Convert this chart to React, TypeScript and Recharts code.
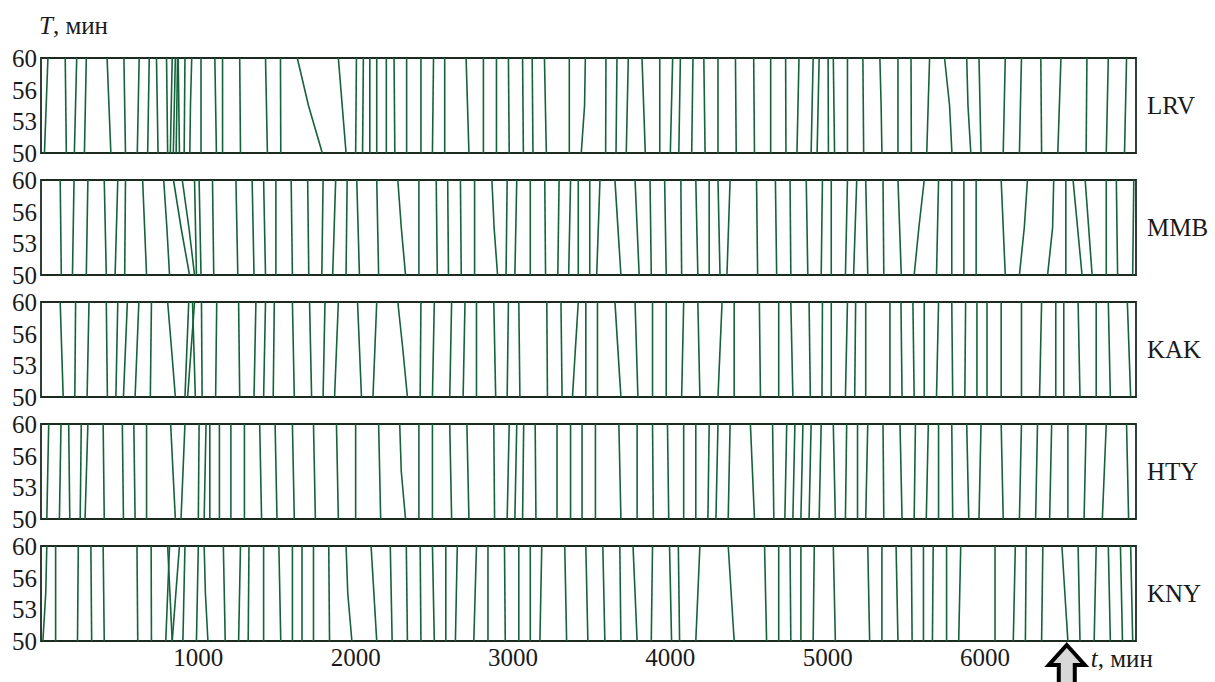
import React from 'react';
import { ComposedChart, Line, XAxis, YAxis, ReferenceArea, ReferenceDot } from 'recharts';

// Each contour: [t at T=50, t at T=60] or [t at T=50, t at T=55, t at T=60]
const lrvLines: number[][] = [
  [22,44],[161,154],[212,227],[276,288],[444,420],[537,527],[612,624],[678,688],[744,734],[805,798],[822,834],[841,854],[859,868],[880,872],[910,915],[946,950,958],[1017,1017],[1115,1105],[1154,1154],[1268,1263],[1439,1427],[1524,1522],[1788,1700,1629],[1939,1890],[2000,2005],[2044,2049],[2090,2090],[2134,2134],[2195,2195],[2249,2244],[2324,2324],[2415,2415],[2488,2495],[2566,2566],[2720,2702],[2812,2812],[2895,2895],[2976,2971],[3066,3061],[3127,3122],[3212,3200],[3358,3358],[3434,3455,3460],
  [3589,3591],[3655,3661],[3720,3733],[3841,3820],[3933,3933],[4000,4015],[4054,4064],[4136,4144],[4221,4213],[4303,4303],[4419,4414],[4535,4530],[4638,4638],[4735,4733],[4805,4818],[4895,4908],[4933,4946],[5005,5003],[5044,5036],[5126,5126],[5229,5224],[5345,5340,5332],[5447,5447],[5532,5530],[5630,5648],[5790,5775,5743],[5910,5892,5884],[5975,5962],[6116,6129],[6219,6232],[6360,6355],[6463,6483],[6643,6648],[6771,6784],[6887,6900],
];
const mmbLines: number[][] = [
  [129,122],[200,210],[288,298],[415,402],[471,488],[532,537],[671,646],[817,800,780],[944,890,842],[976,940,898],[988,976],[1017,1005],[1098,1090],[1251,1239],[1354,1342],[1427,1415],[1493,1493],[1598,1590],[1702,1695],[1785,1793],[1854,1873],[1939,1946],[2024,2007],[2146,2134],[2317,2290,2268],[2402,2402],[2519,2512],[2590,2585],[2671,2666],[2756,2756],[2902,2880,2866],[2956,2963],[3012,3024],[3110,3110],[3207,3202],[3285,3293],[3354,3366],[3415,3415],[3488,3488],
  [3532,3553],[3686,3648],[3802,3776],[3879,3871],[3974,3964],[4072,4067],[4175,4162],[4247,4247],[4316,4303],[4360,4380],[4555,4548],[4676,4668],[4766,4761],[4874,4864],[4959,4967],[5023,5023],[5113,5126],[5165,5185],[5255,5242],[5357,5352],[5468,5447],[5550,5580,5614],[5692,5705],[5789,5789],[5866,5866],[5944,5944],[6129,6103],[6219,6250,6270],[6398,6430,6437],[6514,6514],[6617,6560],[6681,6637],[6771,6771],[6843,6835],[6939,6946],
];
const kakLines: number[][] = [
  [141,122],[215,220],[293,305],[422,415],[476,488],[524,549],[598,622],[695,702],[854,830,805],[915,939],[932,976],[981,963],[1024,1020],[1110,1117],[1263,1256],[1354,1366],[1415,1427],[1476,1483],[1610,1598],[1720,1707],[1793,1805],[1866,1890],[2037,2012],[2110,2134],[2329,2300,2268],[2410,2415],[2488,2500],[2598,2610],[2683,2695],[2768,2768],[2890,2878],[2963,2971],[3044,3037],[3219,3215],[3312,3305],[3378,3415],[3463,3463],[3537,3537],
  [3686,3648],[3794,3776],[3887,3887],[3974,3974],[4072,4085],[4188,4175],[4303,4329],[4406,4406],[4573,4566],[4689,4689],[4779,4766],[4890,4882],[4964,4967],[5023,5023],[5113,5126],[5172,5178],[5242,5242],[5396,5396],[5473,5466],[5550,5542],[5614,5614],[5692,5705],[5795,5789],[5872,5877],[5949,5949],[6013,6013],[6103,6103],[6232,6232],[6347,6360],[6450,6450],[6501,6501],[6604,6592],[6707,6707],[6797,6784],[6926,6905],
];
const htyLines: number[][] = [
  [37,49],[117,127],[183,176],[249,256],[280,298],[402,395],[524,517],[598,590],[671,671],[854,824],[890,915],[1000,1005],[1037,1049],[1073,1073],[1134,1134],[1207,1207],[1293,1293],[1402,1390],[1500,1488],[1610,1598],[1744,1732],[1890,1878],[2000,2000],[2159,2146],[2317,2290,2280],[2402,2402],[2488,2488],[2610,2598],[2720,2707],[2883,2878],[2963,2976],[3012,3024],[3061,3068],[3146,3141],[3280,3280],[3366,3366],[3439,3439],[3524,3524],
  [3686,3673],[3789,3789],[3892,3887],[3990,3982],[4085,4085],[4162,4162],[4239,4247],[4290,4303],[4368,4380],[4535,4509],[4658,4650],[4728,4740],[4779,4792],[4830,4843],[4882,4895],[4946,4959],[5049,5036],[5113,5121],[5190,5190],[5242,5255],[5357,5352],[5473,5460],[5550,5558],[5627,5640],[5705,5705],[5795,5789],[5897,5884],[5962,5975],[6116,6103],[6219,6232],[6322,6334],[6411,6424],[6527,6527],[6630,6643],[6746,6771],[6913,6900],
];
const knyLines: number[][] = [
  [12,30,37],[93,93],[232,237],[322,317],[402,395],[615,610],[702,700],[793,817],[834,805],[834,880],[902,915],[988,1000],[1061,1045,1037],[1171,1159],[1256,1268],[1317,1322],[1415,1415],[1524,1512],[1598,1598],[1659,1659],[1732,1732],[1834,1829],[1976,1950,1939],[2134,2098],[2232,2220],[2329,2322],[2415,2410],[2500,2488],[2573,2573],[2634,2646],[2751,2768],[2841,2841],[2951,2946],[3037,3037],[3110,3110],[3171,3183],[3341,3329],[3476,3463],
  [3584,3571],[3686,3679],[3789,3763],[3879,3887],[4008,3995],[4059,4051],[4162,4188],[4406,4368],[4612,4599],[4689,4689],[4766,4761],[4830,4830],[4908,4915],[5049,5036],[5267,5255],[5345,5345],[5447,5435],[5537,5532],[5609,5609],[5666,5671],[5756,5756],[5833,5846],[6064,6064],[6180,6193],[6257,6262],[6360,6368],[6527,6489],[6604,6592],[6694,6707],[6797,6784],[6874,6861],[6939,6926],
];

const stations = ['LRV', 'MMB', 'KAK', 'HTY', 'KNY'];
const stationLines = [lrvLines, mmbLines, kakLines, htyLines, knyLines];
const xTicks = [1000, 2000, 3000, 4000, 5000, 6000];
const yTicks = [50, 50 + 10 / 3, 50 + 20 / 3, 60];
const tMax = 6960;
const arrowT = 6520;

const GREEN = '#15633a';
const INK = '#1a1a1a';
const FONT = 'Liberation Serif, DejaVu Serif, serif';
const FS = 25;
const textStyle = { fontFamily: FONT, fontSize: FS, fill: INK };

const panelTops = [58, 180, 302, 424, 546];
const PH = 95;

const toPoints = (l: number[]) =>
  l.length === 2
    ? [{ t: l[0], T: 50 }, { t: l[1], T: 60 }]
    : [{ t: l[0], T: 50 }, { t: l[1], T: 55 }, { t: l[2], T: 60 }];

const ArrowShape = (props: any) => {
  const { cx, cy } = props;
  if (cx == null || cy == null) return null;
  const top = cy + 4;
  const mid = cy + 24;
  const bot = cy + 48;
  const pts = [
    [cx, top], [cx + 18, mid], [cx + 8, mid], [cx + 8, bot],
    [cx - 8, bot], [cx - 8, mid], [cx - 18, mid],
  ].map((p) => p.join(',')).join(' ');
  return (
    <g>
      <polygon points={pts} fill="#d8d8d8" stroke="#000" strokeWidth={4} strokeLinejoin="miter" />
      <text x={cx + 24} y={cy + 26} style={textStyle}>
        <tspan fontStyle="italic">t</tspan>, мин
      </text>
    </g>
  );
};

const Panel = ({ idx }: { idx: number }) => {
  const first = idx === 0;
  const last = idx === stations.length - 1;
  const mt = first ? panelTops[0] : 20;
  const mb = last ? 0 : 20;
  const xh = last ? 41 : 0;
  const height = mt + PH + mb + xh;
  const top = panelTops[idx] - mt;
  return (
    <div style={{ position: 'absolute', left: 0, top, width: 1215, height }}>
      <ComposedChart width={1215} height={height} margin={{ top: mt, right: 0, bottom: mb, left: 0 }}>
        <XAxis
          dataKey="t"
          type="number"
          domain={[0, tMax]}
          allowDataOverflow
          ticks={xTicks}
          hide={!last}
          height={xh || 1}
          tickLine={false}
          axisLine={false}
          tickSize={0}
          tickMargin={7}
          tick={textStyle}
        />
        <XAxis
          xAxisId="in"
          type="number"
          domain={[0, tMax]}
          ticks={xTicks}
          mirror
          height={12}
          tick={false}
          tickLine={{ stroke: INK, strokeWidth: 1.3 }}
          tickSize={9}
          axisLine={false}
        />
        <YAxis
          type="number"
          domain={[50, 60]}
          ticks={yTicks}
          width={41}
          axisLine={false}
          tickLine={false}
          tickSize={0}
          tickMargin={4}
          interval={0}
          tickFormatter={(v: number) => String(Math.floor(v + 1e-6))}
          tick={textStyle}
          label={
            first
              ? {
                  content: (p: any) => (
                    <text x={p.viewBox.x + 39} y={p.viewBox.y - 24} style={textStyle}>
                      <tspan fontStyle="italic">T</tspan>, мин
                    </text>
                  ),
                }
              : undefined
          }
        />
        <YAxis
          yAxisId="in"
          type="number"
          domain={[50, 60]}
          ticks={yTicks}
          mirror
          width={12}
          tick={false}
          tickLine={{ stroke: INK, strokeWidth: 1.3 }}
          tickSize={6}
          axisLine={false}
        />
        <YAxis
          yAxisId="r"
          orientation="right"
          type="number"
          domain={[50, 60]}
          width={79}
          tick={false}
          tickLine={false}
          axisLine={false}
          label={{
            value: stations[idx],
            position: 'insideLeft',
            offset: 11,
            style: textStyle,
          }}
        />
        {stationLines[idx].map((l, i) => (
          <Line
            key={i}
            data={toPoints(l)}
            dataKey="T"
            type="linear"
            stroke={GREEN}
            strokeWidth={1.6}
            dot={false}
            activeDot={false}
            isAnimationActive={false}
          />
        ))}
        <ReferenceArea x1={0} x2={tMax} y1={50} y2={60} fill="none" fillOpacity={0} stroke="#1c2a20" strokeWidth={1.8} ifOverflow="visible" />
        {last && (
          <ReferenceDot x={arrowT} y={50} r={0} ifOverflow="visible" shape={ArrowShape} />
        )}
      </ComposedChart>
    </div>
  );
}

export default function App() {
  return (
    <div style={{ position: 'absolute', left: 0, top: 0, width: 1215, height: 682, background: '#fff', overflow: 'hidden', fontFamily: FONT }}>
      {stations.map((s, i) => (
        <Panel key={s} idx={i} />
      ))}
    </div>
  );
}
